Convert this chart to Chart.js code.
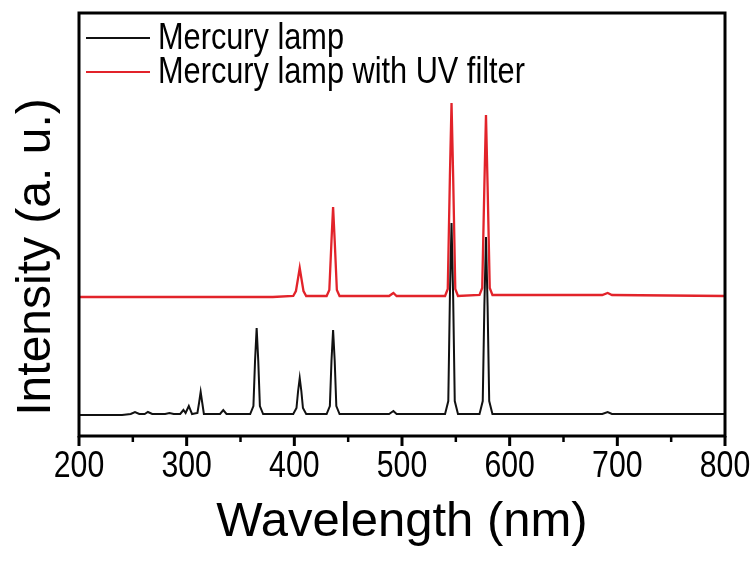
<!DOCTYPE html>
<html>
<head>
<meta charset="utf-8">
<script src="https://cdn.jsdelivr.net/npm/chart.js@4"></script>
<style>
  html, body { margin: 0; padding: 0; background: #fff; }
  #wrap { width: 756px; height: 561px; }
</style>
</head>
<body>
<div id="wrap"><canvas id="spectrum"></canvas></div>
<script>
// Espectros (unidades arbitrárias)
const seriesNames = ['Mercury lamp', 'Mercury lamp with UV filter'];
const seriesColors = ['#111111', '#e2232a'];

const lampWavelength = [200, 240, 248, 252, 256, 261, 264, 268, 280, 284, 288, 294, 297, 299, 302, 305,
  310, 311.5, 313, 314.5, 316, 331, 334, 337, 359, 362, 363.5, 365, 366.5, 368, 371,
  399, 402, 403.5, 405, 406.5, 408, 411, 430, 433, 434.5, 436, 437.5, 439, 442,
  488, 492, 495, 540, 543, 544.5, 546, 547.5, 549, 552,
  572, 575, 576.5, 578, 579.5, 581, 584, 686, 691, 695, 800];
const lampIntensity = [0.21, 0.21, 0.22, 0.24, 0.22, 0.22, 0.24, 0.22, 0.22, 0.23, 0.22, 0.22, 0.26, 0.23, 0.30, 0.22,
  0.23, 0.33, 0.44, 0.33, 0.22, 0.22, 0.26, 0.22, 0.22, 0.30, 0.75, 1.08, 0.75, 0.30, 0.22,
  0.22, 0.28, 0.45, 0.58, 0.45, 0.28, 0.22, 0.22, 0.30, 0.75, 1.06, 0.75, 0.30, 0.22,
  0.22, 0.25, 0.22, 0.22, 0.35, 1.40, 2.13, 1.40, 0.35, 0.22,
  0.22, 0.35, 1.30, 1.99, 1.30, 0.35, 0.22, 0.22, 0.24, 0.22, 0.22];

const filterWavelength = [200, 380, 399, 401.5, 403.5, 405, 406.5, 408.5, 411,
  430, 432.5, 434.5, 436, 437.5, 439.5, 442, 488, 492, 495,
  540, 542.5, 544.5, 546, 547.5, 549.5, 552,
  572, 574.5, 576.5, 578, 579.5, 581.5, 584, 686, 691, 695, 800];
const filterIntensity = [1.39, 1.39, 1.40, 1.45, 1.58, 1.68, 1.58, 1.45, 1.40,
  1.40, 1.46, 1.95, 2.29, 1.95, 1.46, 1.40, 1.40, 1.43, 1.40,
  1.40, 1.47, 2.60, 3.33, 2.60, 1.47, 1.40,
  1.41, 1.48, 2.50, 3.21, 2.50, 1.48, 1.41, 1.41, 1.43, 1.41, 1.40];

const xTicks = [200, 300, 400, 500, 600, 700, 800];
const xMinorTicks = [250, 350, 450, 550, 650, 750];

const fontFamily = '"Liberation Sans", Arial, sans-serif';

function toPoints(xs, ys) {
    return xs.map((x, i) => ({ x: x, y: ys[i] }));
}

// texto estreito (a figura original usa uma fonte condensada)
function narrowText(ctx, text, x, y, squeeze) {
    ctx.save();
    ctx.translate(x, y);
    ctx.scale(squeeze, 1);
    ctx.fillText(text, 0, 0);
    ctx.restore();
}

// Moldura, marcas do eixo, rótulos, título Y e legenda
const framePlugin = {
    id: 'frame',
    afterDraw(chart) {
        const ctx = chart.ctx;
        const area = chart.chartArea;
        const xs = chart.scales.x;
        ctx.save();
        ctx.strokeStyle = '#000';
        ctx.lineWidth = 3;
        ctx.strokeRect(area.left, area.top, area.right - area.left, area.bottom - area.top);

        ctx.lineWidth = 3;
        xTicks.forEach(v => {
            const px = xs.getPixelForValue(v);
            ctx.beginPath();
            ctx.moveTo(px, area.bottom);
            ctx.lineTo(px, area.bottom + 10);
            ctx.stroke();
        });
        ctx.lineWidth = 2.5;
        xMinorTicks.forEach(v => {
            const px = xs.getPixelForValue(v);
            ctx.beginPath();
            ctx.moveTo(px, area.bottom);
            ctx.lineTo(px, area.bottom + 6);
            ctx.stroke();
        });

        // rótulos do eixo X
        ctx.fillStyle = '#000';
        ctx.font = '36px ' + fontFamily;
        ctx.textAlign = 'center';
        ctx.textBaseline = 'alphabetic';
        xTicks.forEach(v => {
            narrowText(ctx, String(v), xs.getPixelForValue(v), area.bottom + 41, 0.84);
        });

        // título do eixo Y
        ctx.font = '48px ' + fontFamily;
        ctx.translate(50, 257);
        ctx.rotate(-Math.PI / 2);
        ctx.fillText('Intensity (a. u.)', 0, 0);
        ctx.restore();

        // legenda
        ctx.save();
        ctx.font = '37px ' + fontFamily;
        ctx.textBaseline = 'middle';
        ctx.textAlign = 'left';
        chart.data.datasets.forEach((ds, i) => {
            const y = 38 + i * 34;
            ctx.strokeStyle = ds.borderColor;
            ctx.lineWidth = 2;
            ctx.beginPath();
            ctx.moveTo(86, y);
            ctx.lineTo(150, y);
            ctx.stroke();
            ctx.fillStyle = '#000';
            narrowText(ctx, ds.label, 158, y + 1, 0.83);
        });
        ctx.restore();
    }
};

new Chart(document.getElementById('spectrum').getContext('2d'), {
    type: 'line',
    data: {
        datasets: [{
            label: seriesNames[0],
            data: toPoints(lampWavelength, lampIntensity),
            borderColor: seriesColors[0],
            borderWidth: 2,
            pointRadius: 0,
            tension: 0,
        }, {
            label: seriesNames[1],
            data: toPoints(filterWavelength, filterIntensity),
            borderColor: seriesColors[1],
            borderWidth: 2.3,
            pointRadius: 0,
            tension: 0,
        }]
    },
    options: {
        responsive: true,
        maintainAspectRatio: false,
        animation: false,
        layout: { padding: { top: 13, right: 31, left: 0, bottom: 0 } },
        plugins: {
            legend: { display: false },
            tooltip: { enabled: false }
        },
        scales: {
            x: {
                type: 'linear',
                min: 200,
                max: 800,
                afterBuildTicks: s => { s.ticks = xTicks.map(v => ({ value: v })); },
                afterFit: s => { s.height = 125; s.paddingLeft = 0; s.paddingRight = 0; },
                grid: { display: false, drawTicks: false },
                border: { display: false },
                ticks: { display: false },
                title: {
                    display: true,
                    text: 'Wavelength (nm)',
                    color: '#000',
                    padding: { bottom: 9 },
                    font: { family: fontFamily, size: 49 }
                }
            },
            y: {
                min: 0,
                max: 4.23,
                afterFit: s => { s.width = 79; },
                grid: { display: false, drawTicks: false },
                border: { display: false },
                ticks: { display: false }
            }
        }
    },
    plugins: [framePlugin]
});
</script>
</body>
</html>
